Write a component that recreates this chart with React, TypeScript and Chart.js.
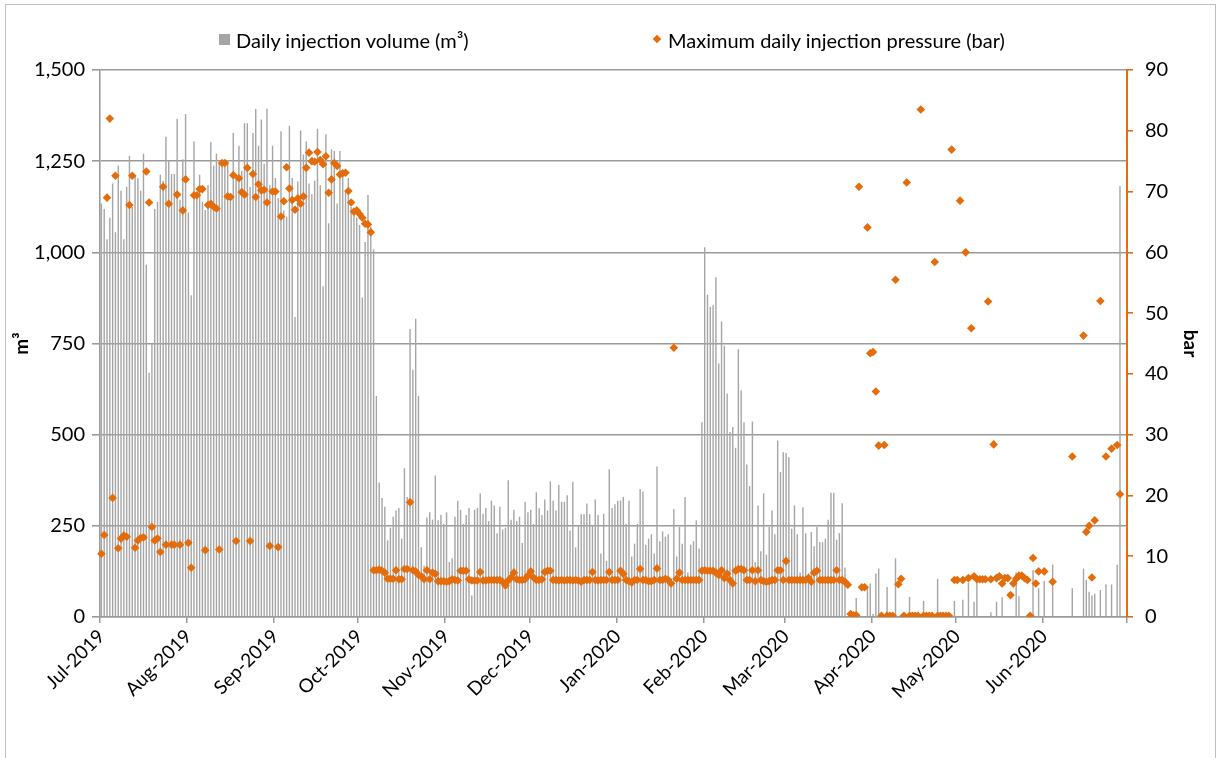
import React, { useEffect, useRef } from 'react';
import { Chart, registerables } from 'chart.js';

Chart.register(...registerables);

const monthLabels = ['Jul-2019', 'Aug-2019', 'Sep-2019', 'Oct-2019', 'Nov-2019', 'Dec-2019', 'Jan-2020', 'Feb-2020', 'Mar-2020', 'Apr-2020', 'May-2020', 'Jun-2020'];
const monthLengths = [31, 31, 30, 31, 30, 31, 31, 29, 31, 30, 31, 30];

// Daily injection volume (m³), 1 Jul 2019 – 30 Jun 2020
const dailyVolume = [
  1134, 1119, 1036, 1095, 1189, 1055, 1238, 1169, 1036, 1180,
  1265, 1124, 1211, 1203, 1169, 1270, 966, 670, 749, 1119,
  1139, 1213, 1196, 1317, 1250, 1215, 1215, 1366, 1144, 1255,
  1379, 1109, 882, 1304, 1159, 1213, 1139, 1116, 1184, 1302,
  1238, 1270, 1243, 1248, 1243, 1253,
  1154, 1327, 1213, 1292, 1223, 1354, 1354, 1179, 1327, 1393,
  1292, 1364, 1243, 1394, 1184, 1292, 1204, 1149, 1332, 1115,
  1098, 1347, 1204, 823, 1194, 1334, 1268, 1304, 1189, 1159,
  1196, 1339, 1184, 907, 1324, 1080, 1282, 1278, 1134, 1278,
  1208, 1166, 1204, 1124, 1120, 1095, 1075,
  876, 1028, 1157, 1070, 1008, 606, 369, 326, 302, 210,
  245, 275, 292, 299, 215, 408, 329, 790, 678, 818,
  606, 191, 141, 273, 287, 267, 388, 265, 280, 255,
  287, 151, 161, 275, 319, 294, 255, 280, 299, 59,
  294, 299, 339, 283,
  299, 263, 319, 306, 230, 302, 240, 245, 375, 267,
  294, 263, 275, 203, 316, 287, 294, 255, 342, 298,
  280, 322, 292, 372, 319, 292, 362, 316, 316, 334,
  237, 371, 191, 250, 282, 282, 311, 282, 250, 322,
  280, 174, 283, 154, 405, 299, 309, 319,
  319, 329, 255, 319, 166, 201, 255, 351, 344, 198,
  215, 227, 174, 413, 208, 235, 220, 227, 107, 296,
  166, 247, 201, 329, 122, 198, 208, 265, 188, 534,
  1014, 884, 850, 855, 932, 695, 810, 744, 613, 507,
  521, 464, 734, 621, 534, 418,
  359, 536, 150, 306, 180, 339, 171, 247, 292, 227,
  484, 398, 452, 450, 438, 242, 306, 227, 122, 301,
  230, 120, 233, 194, 247, 205, 205, 215, 267, 341,
  341, 212, 230, 312, 136, 0, 0, 0, 52, 0,
  0, 0, 82, 92, 8, 119, 133,
  0, 0, 82, 0, 0, 161, 0, 0, 0, 0,
  55, 0, 0, 0, 0, 44, 0, 0, 0, 0,
  104, 0, 0, 0, 0, 0, 44, 0, 0, 47,
  0, 94, 0, 42, 99, 0, 0, 0, 0, 13,
  0, 42, 0,
  54, 0, 0, 0, 0, 122, 57, 0, 0, 0,
  0, 128, 0, 79, 0, 99, 0, 0, 144, 0,
  0, 0, 0, 0, 0, 79, 0, 0, 0, 133,
  102, 69, 59, 64, 0, 74, 0, 89, 0, 89,
  0, 143, 1182, 0, 0,
];

// Maximum daily injection pressure (bar)
const maxPressure: (number | null)[] = [
  10.4, 13.5, 69.0, 82.0, 19.6, 72.6, 11.3, 12.9, 13.4, 13.2,
  67.8, 72.6, 11.4, 12.6, 13.0, 13.1, 73.3, 68.2, 14.8, 12.6,
  12.9, 10.7, 70.8, 11.9, 68.0, 11.9, 11.9, 69.5, 11.9, 66.9,
  72.0, 12.2, 8.1, 69.4, 69.4, 70.4, 70.4, 11.0, 67.8, 68.0,
  67.5, 67.2, 11.1, 74.7, 74.7, 69.2,
  69.1, 72.7, 12.5, 72.2, 69.9, 69.5, 73.9, 12.5, 72.9, 69.1,
  71.2, 70.2, 70.3, 68.2, 11.7, 70.0, 70.0, 11.5, 65.9, 68.4,
  74.0, 70.5, 68.6, 67.0, 68.9, 68.0, 69.2, 73.9, 76.4, 75.0,
  74.9, 76.5, 75.2, 74.5, 75.8, 69.8, 72.0, 74.7, 74.2, 72.8,
  73.0, 73.1, 70.1, 68.2, 66.7, 66.9, 66.3,
  65.7, 64.7, 64.6, 63.3,
  7.7, 7.7, 7.8, 7.6, 7.3, 6.3, 6.3, 6.3, 7.7, 6.2,
  6.2, 7.9, 7.9, 18.9, 7.7, 7.5, 6.9, 6.7, 6.2, 7.7,
  6.2, 7.3, 7.1, 5.9, 5.9, 5.9, 5.8, 5.9, 6.2, 6.1,
  6.0, 7.6, 7.6, 7.6, 6.2, 6.0, 6.0, 6.0, 7.4, 6.0,
  6.0,
  6.1, 6.1, 6.1, 6.1, 6.1, 5.8, 5.2, 6.0, 6.5, 7.3,
  6.2, 6.1, 6.1, 6.2, 6.8, 7.5, 6.5, 6.1, 6.1, 6.2,
  7.4, 7.6, 7.6, 6.1, 6.1, 6.0, 6.1, 6.0, 6.1, 6.1,
  6.0, 6.1, 6.0, 5.8, 6.1, 6.1, 6.1, 7.4, 6.1, 6.0,
  6.1, 6.1, 6.1, 7.4, 6.1, 6.1, 6.1,
  7.6, 7.1, 6.1, 5.9, 5.7, 6.1, 6.1, 7.9, 6.1, 6.1,
  5.9, 5.9, 6.1, 8.0, 6.1, 6.1, 6.3, 6.1, 5.5, 44.3,
  6.3, 7.3, 6.1, 6.1, 6.1, 6.1, 6.1, 6.1, 6.1, 7.6,
  7.7, 7.6, 7.6, 7.6, 7.3, 6.9, 7.7, 6.4, 7.1, 6.1,
  5.5, 7.6, 7.9, 7.9, 7.7,
  6.1, 6.1, 7.7, 5.9, 7.7, 6.1, 5.9, 5.8, 5.9, 6.1,
  6.1, 7.7, 7.7, 6.1, 9.2, 6.1, 6.1, 6.1, 6.1, 6.1,
  6.1, 6.1, 6.4, 5.8, 7.3, 7.6, 6.1, 6.1, 6.1, 6.1,
  6.1, 6.1, 7.7, 6.1, 6.1, 5.8, 5.3, 0.5, 0.3, 0.3,
  70.8, 4.9, 4.9, 64.1, 43.4, 43.6, 37.1, 28.2,
  0.2, 28.3, 0.2, 0.2, 0.2, 55.5, 5.4, 6.3, 0.2, 71.5,
  0.2, 0.2, 0.2, 0.2, 83.5, 0.2, 0.2, 0.2, 0.2, 58.4,
  0.2, 0.2, 0.2, 0.2, 0.2, 76.9, 6.1, 6.1, 68.5, 6.1,
  60.0, 6.4, 47.5, 6.7, 6.2, 6.2, 6.2, 6.2, 51.9, 6.2,
  28.4, 6.4, 6.7,
  5.5, 6.4, 6.4, 3.6, 5.5, 6.3, 6.8, 6.8, 6.4, 6.1,
  0.2, 9.7, 5.5, 7.5, null, 7.5, null, null, 5.8, null,
  null, null, null, null, null, 26.4, null, null, null, 46.3,
  14.0, 15.0, 6.5, 15.9, null, 52.0, null, 26.4, null, 27.7,
  null, 28.3, 20.2, null, null,
];

const leftTicks = [0, 250, 500, 750, 1000, 1250, 1500];
const rightTicks = [0, 10, 20, 30, 40, 50, 60, 70, 80, 90];

const volumeLabel = 'Daily injection volume (m³)';
const pressureLabel = 'Maximum daily injection pressure (bar)';

const GRAY = '#A5A5A5';
const ORANGE = '#E46C0A';
const GRID = '#9A9A9A';
const FONT = 'Lato, "Open Sans", sans-serif';

// build day categories and month-start tick text
const dayLabels: string[] = [];
const tickText: string[] = [];
monthLabels.forEach((m, mi) => {
  for (let d = 1; d <= monthLengths[mi]; d++) {
    dayLabels.push(`${m}-${String(d).padStart(2, '0')}`);
    tickText.push(d === 1 ? m : '');
  }
});

export default function App() {
  const canvasRef = useRef<HTMLCanvasElement | null>(null);

  useEffect(() => {
    const canvas = canvasRef.current;
    if (!canvas) return;
    Chart.defaults.font.family = FONT;
    Chart.defaults.color = '#000';
    const chart = new Chart(canvas, {
      data: {
        labels: dayLabels,
        datasets: [
          {
            type: 'line',
            label: pressureLabel,
            data: maxPressure,
            yAxisID: 'y1',
            showLine: false,
            pointStyle: 'rectRot',
            pointRadius: 4.3,
            pointHoverRadius: 4.3,
            pointBorderWidth: 0,
            pointBackgroundColor: ORANGE,
            pointBorderColor: ORANGE,
            order: 0,
          } as any,
          {
            type: 'bar',
            label: volumeLabel,
            data: dailyVolume,
            yAxisID: 'y',
            backgroundColor: GRAY,
            barPercentage: 0.5,
            categoryPercentage: 1,
            order: 1,
          } as any,
        ],
      },
      options: {
        responsive: false,
        animation: false,
        devicePixelRatio: 1,
        layout: { padding: { top: 70, left: 0, right: 0, bottom: 0 } },
        plugins: {
          legend: { display: false },
          tooltip: { enabled: false },
        },
        scales: {
          x: {
            type: 'category',
            offset: true,
            grid: {
              offset: true,
              drawOnChartArea: false,
              drawTicks: true,
              tickLength: 6,
              lineWidth: 1.5,
              color: (ctx: any) => {
                if (ctx.type !== 'tick') return GRID;
                return tickText[ctx.index] ? GRID : 'rgba(0,0,0,0)';
              },
            },
            border: { display: true, color: GRID, width: 1.5 },
            ticks: {
              autoSkip: false,
              maxRotation: 45,
              minRotation: 45,
              padding: 2,
              color: '#000',
              font: { size: 19, family: FONT },
              callback: (_v: any, i: number) => tickText[i],
            },
            afterFit: (s: any) => { s.height = 141; },
          },
          y: {
            type: 'linear',
            position: 'left',
            min: 0,
            max: 1500,
            afterBuildTicks: (s: any) => { s.ticks = leftTicks.map((v) => ({ value: v })); },
            ticks: {
              padding: 7,
              color: '#000',
              font: { size: 20, family: FONT },
              callback: (v: any) => Number(v).toLocaleString('en-US'),
            },
            grid: { color: GRID, lineWidth: 1.6, tickLength: 8, drawTicks: true },
            border: { display: true, color: GRID, width: 1.6 },
            title: { display: true, text: 'm³', color: '#000', font: { size: 19, weight: 'bold', family: FONT }, padding: { top: 10, bottom: 0 } },
            afterFit: (s: any) => { s.width = 100; },
          },
          y1: {
            type: 'linear',
            position: 'right',
            min: 0,
            max: 90,
            afterBuildTicks: (s: any) => { s.ticks = rightTicks.map((v) => ({ value: v })); },
            ticks: {
              padding: 12,
              color: '#000',
              font: { size: 20, family: FONT },
            },
            grid: { drawOnChartArea: false, color: ORANGE, lineWidth: 1.6, tickLength: 6, drawTicks: true },
            border: { display: true, color: ORANGE, width: 2 },
            title: { display: true, text: 'bar', color: '#000', font: { size: 19, weight: 'bold', family: FONT }, padding: { top: 14, bottom: 0 } },
            afterFit: (s: any) => { s.width = 89; },
          },
        },
      } as any,
    });
    return () => chart.destroy();
  }, []);

  return (
    <div style={{ position: 'absolute', left: 0, top: 0, width: 1216, height: 758, overflow: 'hidden', background: '#fff', fontFamily: FONT }}>
      <div style={{ position: 'absolute', left: 5, top: 4, width: 1211, height: 800, border: '1px solid #BFBFBF', boxSizing: 'border-box' }} />
      <canvas ref={canvasRef} width={1216} height={758} style={{ position: 'absolute', left: 0, top: 0, width: 1216, height: 758 }} />
      <div style={{ position: 'absolute', left: 219, top: 34, width: 11, height: 11, background: GRAY }} />
      <div style={{ position: 'absolute', left: 236, top: 27, fontSize: 20, lineHeight: '26px', color: '#000', whiteSpace: 'nowrap' }}>{volumeLabel}</div>
      <div style={{ position: 'absolute', left: 654, top: 36, width: 6, height: 6, background: ORANGE, transform: 'rotate(45deg)' }} />
      <div style={{ position: 'absolute', left: 668, top: 27, fontSize: 20, lineHeight: '26px', color: '#000', whiteSpace: 'nowrap' }}>{pressureLabel}</div>
    </div>
  );
}
